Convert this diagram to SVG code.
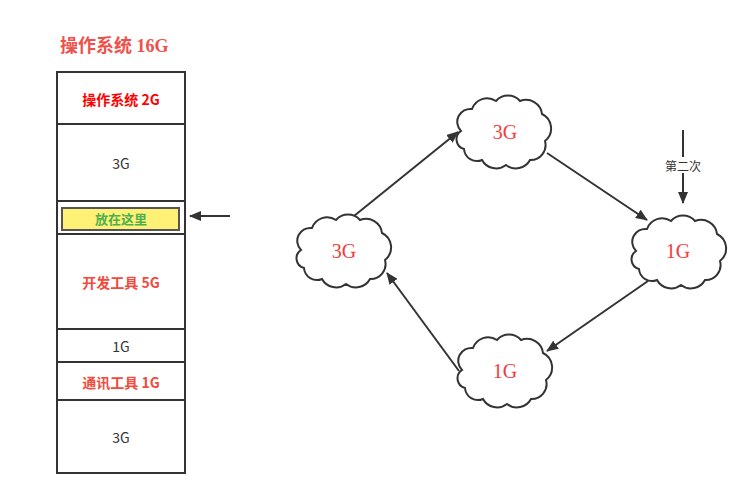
<svg xmlns="http://www.w3.org/2000/svg" width="747" height="499" viewBox="0 0 747 499">
<style>
.cell{fill:#fff;stroke:#333;stroke-width:2}
.sans{font-family:"Noto Sans CJK SC","Noto Sans",sans-serif;font-size:14px;text-anchor:middle;dominant-baseline:central}
.serif{font-family:"Liberation Serif","Noto Sans CJK SC",serif;text-anchor:middle;dominant-baseline:central}
.red{fill:#f24a3d;font-weight:bold}
.dark{fill:#333}
.cloud{fill:#fff;stroke:#333;stroke-width:2}
.conn{stroke:#333;stroke-width:2;fill:none}
.ctext{font-size:20px;fill:#f23c3c}
</style>
<defs>
<marker id="ah" markerWidth="12" markerHeight="10" refX="11" refY="5" orient="auto" markerUnits="userSpaceOnUse">
<path d="M0,0 L12,5 L0,10 Z" fill="#333"/>
</marker>
<path id="cloudshape" d="M3,34 A13,13 0 0 1 14,12 A16,16 0 0 1 38,4 A16,16 0 0 1 62,4 A16,16 0 0 1 84,17 A16,16 0 0 1 87,44 A15,15 0 0 1 72,63 A16,16 0 0 1 48,68 A16,16 0 0 1 24,63 A13,13 0 0 1 6,52 A10,10 0 0 1 3,34 Z"/>
</defs>

<g id="title">
<text x="60" y="46" class="serif" style="text-anchor:start;font-size:18px;font-weight:bold;fill:#f0504a">操作系统 16G</text>
</g>

<g id="memory">
<g id="row-os"><rect x="57" y="72" width="128" height="52" class="cell"/><text x="121" y="99" class="sans" style="fill:#ff0000;font-weight:bold">操作系统 2G</text></g>
<g id="row-3g-a"><rect x="57" y="124" width="128" height="77" class="cell"/><text x="121" y="163" class="sans dark">3G</text></g>
<g id="row-slot"><rect x="57" y="201" width="128" height="33" class="cell"/>
<rect x="62" y="208" width="117" height="22" fill="#fff176" stroke="#555" stroke-width="2"/>
<text x="121" y="219" class="serif" style="font-size:13px;font-weight:bold;fill:#4caf50">放在这里</text></g>
<g id="row-dev"><rect x="57" y="234" width="128" height="95" class="cell"/><text x="121" y="282" class="sans red">开发工具 5G</text></g>
<g id="row-1g"><rect x="57" y="329" width="128" height="33" class="cell"/><text x="121" y="346" class="sans dark">1G</text></g>
<g id="row-comm"><rect x="57" y="362" width="128" height="38" class="cell"/><text x="121" y="382" class="sans red">通讯工具 1G</text></g>
<g id="row-3g-b"><rect x="57" y="400" width="128" height="73" class="cell"/><text x="121" y="437" class="sans dark">3G</text></g>
</g>

<g id="cloud-top"><use href="#cloudshape" x="458" y="97" class="cloud"/><text x="505" y="132" class="serif ctext">3G</text></g>
<g id="cloud-left"><use href="#cloudshape" x="298" y="216" class="cloud"/><text x="344" y="251" class="serif ctext">3G</text></g>
<g id="cloud-right"><use href="#cloudshape" x="633" y="217" class="cloud"/><text x="678" y="251" class="serif ctext">1G</text></g>
<g id="cloud-bottom"><use href="#cloudshape" x="459" y="336" class="cloud"/><text x="505" y="371" class="serif ctext">1G</text></g>

<g id="connectors">
<line x1="230" y1="216" x2="190" y2="216" class="conn" marker-end="url(#ah)"/>
<line x1="354" y1="216" x2="458" y2="132" class="conn" marker-end="url(#ah)"/>
<line x1="547" y1="153" x2="647" y2="220" class="conn" marker-end="url(#ah)"/>
<line x1="648" y1="281" x2="547" y2="351" class="conn" marker-end="url(#ah)"/>
<line x1="459" y1="371" x2="387" y2="273" class="conn" marker-end="url(#ah)"/>
<line x1="683" y1="130" x2="683" y2="203" class="conn" marker-end="url(#ah)"/>
<rect x="663" y="157" width="40" height="16" fill="#fff"/>
<text x="683" y="165" class="sans" style="font-size:12px;fill:#333">第二次</text>
</g>
</svg>
